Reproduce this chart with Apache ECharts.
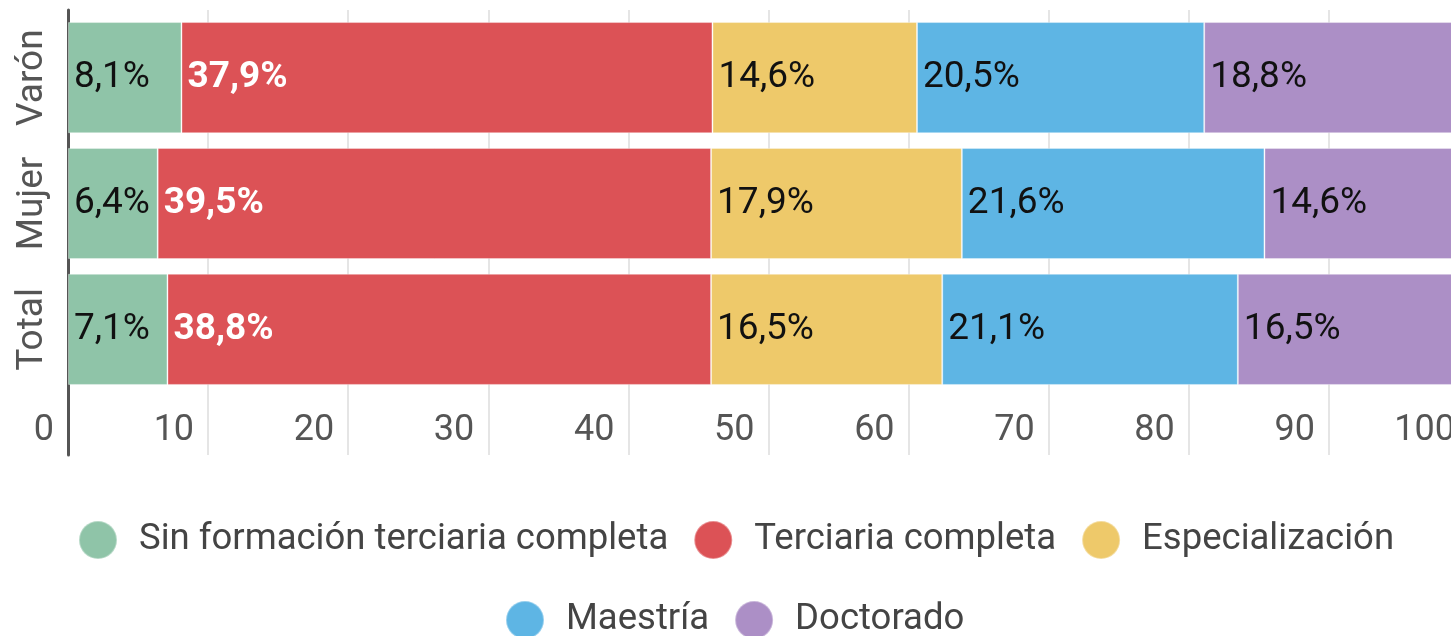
<!DOCTYPE html>
<html>
<head>
<meta charset="utf-8">
<script src="https://cdn.jsdelivr.net/npm/echarts@6/dist/echarts.min.js"></script>
<style>
html,body{margin:0;padding:0;background:#fff;overflow:hidden;width:1451px;height:636px;}
#chart{width:1490px;height:636px;}
</style>
</head>
<body>
<div id="chart"></div>
<script>
const categories = ['Varón', 'Mujer', 'Total'];
const seriesNames = ['Sin formación terciaria completa', 'Terciaria completa', 'Especialización', 'Maestría', 'Doctorado'];
const sinFormacion = [8.1, 6.4, 7.1];
const terciaria = [37.9, 39.5, 38.8];
const especializacion = [14.6, 17.9, 16.5];
const maestria = [20.5, 21.6, 21.1];
const doctorado = [18.8, 14.6, 16.5];
const xTicks = [0, 10, 20, 30, 40, 50, 60, 70, 80, 90, 100];

const colors = ['#8fc4a8', '#dc5256', '#eec96a', '#5eb5e4', '#ac8fc6'];
const values = [sinFormacion, terciaria, especializacion, maestria, doctorado];
const FONT = 'Roboto';

const chart = echarts.init(document.getElementById('chart'), null, {renderer: 'canvas'});

const series = seriesNames.map((name, i) => ({
  name: name,
  type: 'bar',
  stack: 'total',
  xAxisIndex: 1,
  yAxisIndex: 1,
  barCategoryGap: '11.7%',
  data: values[i],
  itemStyle: {color: colors[i], borderColor: 'rgba(255,255,255,0.35)', borderWidth: 1},
  label: {
    show: true,
    position: 'insideLeft',
    distance: 6,
    fontFamily: FONT,
    fontSize: 37,
    color: i === 1 ? '#ffffff' : '#111111',
    fontWeight: i === 1 ? 'bold' : 'normal',
    formatter: p => p.value.toFixed(1).replace('.', ',') + '%'
  }
}));

const legendCommon = {
  icon: 'circle', itemWidth: 38, itemHeight: 38, itemGap: 25, padding: 0,
  textStyle: {fontFamily: FONT, fontSize: 36.5, color: '#444444', padding: [0, 0, 0, 17]}
};

chart.setOption({
  animation: false,
  color: colors,
  grid: [
    {left: 68, width: 1401, top: 10, height: 445},
    {left: 68, width: 1401, top: 14.7, height: 377.6}
  ],
  xAxis: [
    {
      type: 'value', gridIndex: 0, min: xTicks[0], max: xTicks[xTicks.length - 1], interval: 10,
      position: 'bottom',
      axisLine: {show: false}, axisTick: {show: false},
      splitLine: {show: true, lineStyle: {color: '#dddddd', width: 1.5}},
      axisLabel: {
        inside: true, align: 'right', verticalAlign: 'middle', margin: 24,
        padding: [0, 14, 0, 0],
        fontFamily: FONT, fontSize: 36, color: '#555555'
      }
    },
    {
      type: 'value', gridIndex: 1, min: 0, max: 100, show: false
    }
  ],
  yAxis: [
    {
      type: 'value', gridIndex: 0, min: 0, max: 1,
      axisLine: {show: true, lineStyle: {color: '#555555', width: 3}},
      axisTick: {show: false}, axisLabel: {show: false}, splitLine: {show: false}
    },
    {
      type: 'category', gridIndex: 1, data: categories, inverse: true,
      axisLine: {show: false}, axisTick: {show: false},
      axisLabel: {
        interval: 0, rotate: 90, margin: 17, fontFamily: FONT, fontSize: 37, color: '#555555'
      }
    }
  ],
  legend: [
    Object.assign({data: seriesNames.slice(0, 3), left: 78, top: 520}, legendCommon),
    Object.assign({data: seriesNames.slice(3), left: 505, top: 600}, legendCommon)
  ],
  series: series
});
</script>
</body>
</html>
